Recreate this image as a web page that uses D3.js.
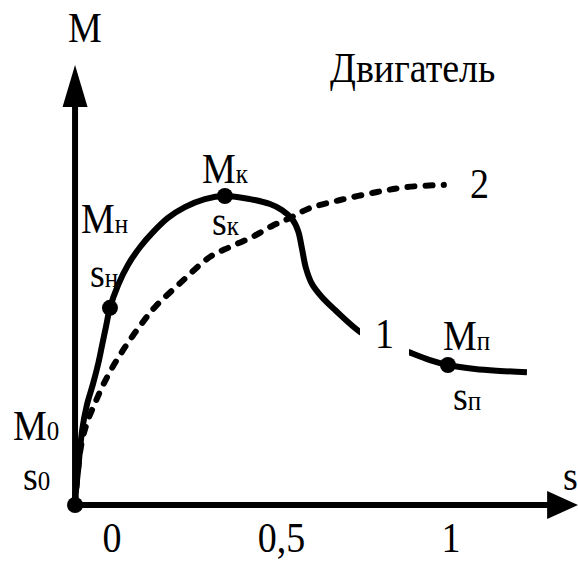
<!DOCTYPE html>
<html>
<head>
<meta charset="utf-8">
<script src="https://cdn.jsdelivr.net/npm/d3@7"></script>
<style>
  html, body { margin: 0; padding: 0; background: #fff; }
  svg { display: block; }
  svg text { font-family: "Liberation Serif", "Times New Roman", Times, "DejaVu Serif", serif; }
</style>
</head>
<body>
<svg id="chart" width="578" height="562"></svg>
<script>
// Torque–slip characteristic of the motor (curve 1) and the load (curve 2)

// s values for the tick labels on the horizontal axis
const sTicks = [0, 0.5, 1];
const sTickLabels = ["0", "0,5", "1"];

// Curve 1: motor torque M versus slip s
const motorS = [-0.109, -0.106, -0.100, -0.088, -0.074, -0.056, -0.041, -0.029, -0.018, -0.006,
                0.018, 0.047, 0.083, 0.121, 0.165, 0.215, 0.274, 0.333, 0.407, 0.466,
                0.501, 0.531, 0.549, 0.560, 0.572, 0.590, 0.619, 0.658, 0.732, 0.791,
                0.858, 0.938, 0.991, 1.071, 1.145, 1.224];
const motorM = [0, 0.049, 0.113, 0.243, 0.324, 0.392, 0.456, 0.518, 0.576, 0.638,
                0.712, 0.777, 0.835, 0.883, 0.929, 0.964, 0.990, 1.0, 0.990, 0.974,
                0.955, 0.926, 0.887, 0.832, 0.767, 0.715, 0.673, 0.631, 0.560, 0.528,
                0.502, 0.469, 0.453, 0.440, 0.434, 0.430];

// Curve 2: load torque versus slip
const loadS = [-0.109, -0.103, -0.097, -0.088, -0.071, -0.050, -0.029, 0.000, 0.029, 0.059,
               0.091, 0.127, 0.201, 0.289, 0.348, 0.413, 0.472, 0.525, 0.584, 0.673,
               0.782, 0.870, 0.979];
const loadM = [0, 0.081, 0.146, 0.210, 0.275, 0.330, 0.382, 0.443, 0.495, 0.544,
               0.592, 0.641, 0.718, 0.803, 0.835, 0.867, 0.903, 0.929, 0.961, 0.987,
               1.013, 1.029, 1.036];

// Marked points: M0/s0, Mн/sн, Mк/sк, Mп/sп
const pointNames = ["0", "н", "к", "п"];
const pointS = [-0.109, -0.006, 0.333, 0.991];
const pointM = [0, 0.638, 1.0, 0.453];

// Axis extents in data units
const sAxisStart = -0.109;
const sAxisEnd = 1.375;
const mAxisEnd = 1.424;

const svg = d3.select("#chart");

const x = d3.scaleLinear().domain([0, 1]).range([112, 451]);
const y = d3.scaleLinear().domain([0, 1]).range([505, 196]);

const stroke = 6;
const fs = 38, subFs = 25, vStretch = 1.13;

// Axes with arrowheads
const ox = x(sAxisStart), oy = y(0);
const topY = y(mAxisEnd), rightX = x(sAxisEnd);
const headLen = 42, headHalf = 12.5;
const hHeadLen = 31, hHeadHalf = 14;

svg.append("line")
  .attr("x1", ox).attr("y1", oy)
  .attr("x2", ox).attr("y2", topY + headLen - 2)
  .attr("stroke", "#000").attr("stroke-width", stroke);
svg.append("path")
  .attr("d", `M${ox},${topY} L${ox - headHalf},${topY + headLen} L${ox + headHalf},${topY + headLen} Z`)
  .attr("fill", "#000");

svg.append("line")
  .attr("x1", ox).attr("y1", oy)
  .attr("x2", rightX - hHeadLen + 2).attr("y2", oy)
  .attr("stroke", "#000").attr("stroke-width", stroke);
svg.append("path")
  .attr("d", `M${rightX},${oy} L${rightX - hHeadLen},${oy - hHeadHalf} L${rightX - hHeadLen},${oy + hHeadHalf} Z`)
  .attr("fill", "#000");

// Text helper: serif labels slightly stretched vertically, optional subscript
function label(px, py, main, sub, anchor) {
  const g = svg.append("g")
    .attr("transform", `translate(${px},${py}) scale(1,${vStretch})`);
  const t = g.append("text")
    .style("font-family", '"Liberation Serif", "Times New Roman", Times, "DejaVu Serif", serif')
    .attr("font-size", fs)
    .attr("fill", "#000")
    .attr("text-anchor", anchor || "start");
  t.append("tspan").text(main);
  if (sub) t.append("tspan").attr("font-size", subFs).text(sub);
  return g;
}

// Curves
const line = d3.line()
  .x(d => x(d[0])).y(d => y(d[1]))
  .curve(d3.curveCatmullRom.alpha(0.5));

const loadData = loadS.map((s, i) => [s, loadM[i]]);
svg.append("path")
  .attr("d", line(loadData))
  .attr("fill", "none").attr("stroke", "#000")
  .attr("stroke-width", stroke)
  .attr("stroke-dasharray", "7 11")
  .attr("stroke-linecap", "round");

const motorData = motorS.map((s, i) => [s, motorM[i]]);
svg.append("path")
  .attr("d", line(motorData))
  .attr("fill", "none").attr("stroke", "#000")
  .attr("stroke-width", stroke)
  .attr("stroke-linecap", "butt");

// Curve number labels; curve 1 is broken around its label
const lab1 = label(375, 348, "1");
const bb = lab1.node().getBBox();
lab1.insert("rect", "text")
  .attr("x", bb.x - 15).attr("y", bb.y - 2)
  .attr("width", bb.width + 30).attr("height", bb.height + 4)
  .attr("fill", "#fff");
label(470, 198, "2");

// Marked points
svg.selectAll("circle.pt")
  .data(pointS.map((s, i) => ({ s, m: pointM[i], name: pointNames[i] })))
  .join("circle")
  .attr("class", "pt")
  .attr("cx", d => x(d.s)).attr("cy", d => y(d.m))
  .attr("r", 8).attr("fill", "#000");

// Point labels: offsets of the M and s labels from each point
const mOffset = { "0": [-62, -65], "н": [-29, -75], "к": [-23, -13], "п": [-5, -15] };
const sOffset = { "0": [-52, -15], "н": [-20, -21], "к": [-13, 39], "п": [5, 45] };
pointNames.forEach((n, i) => {
  const px = x(pointS[i]), py = y(pointM[i]);
  label(px + mOffset[n][0], py + mOffset[n][1], "M", n);
  label(px + sOffset[n][0], py + sOffset[n][1], "s", n);
});

// Tick labels on the s axis
sTicks.forEach((v, i) => label(x(v), 552, sTickLabels[i], null, "middle"));

// Axis titles and heading
label(ox - 7, 42, "M");
label(563, 490, "s");
label(330, 82, "Двигатель");
</script>
</body>
</html>
